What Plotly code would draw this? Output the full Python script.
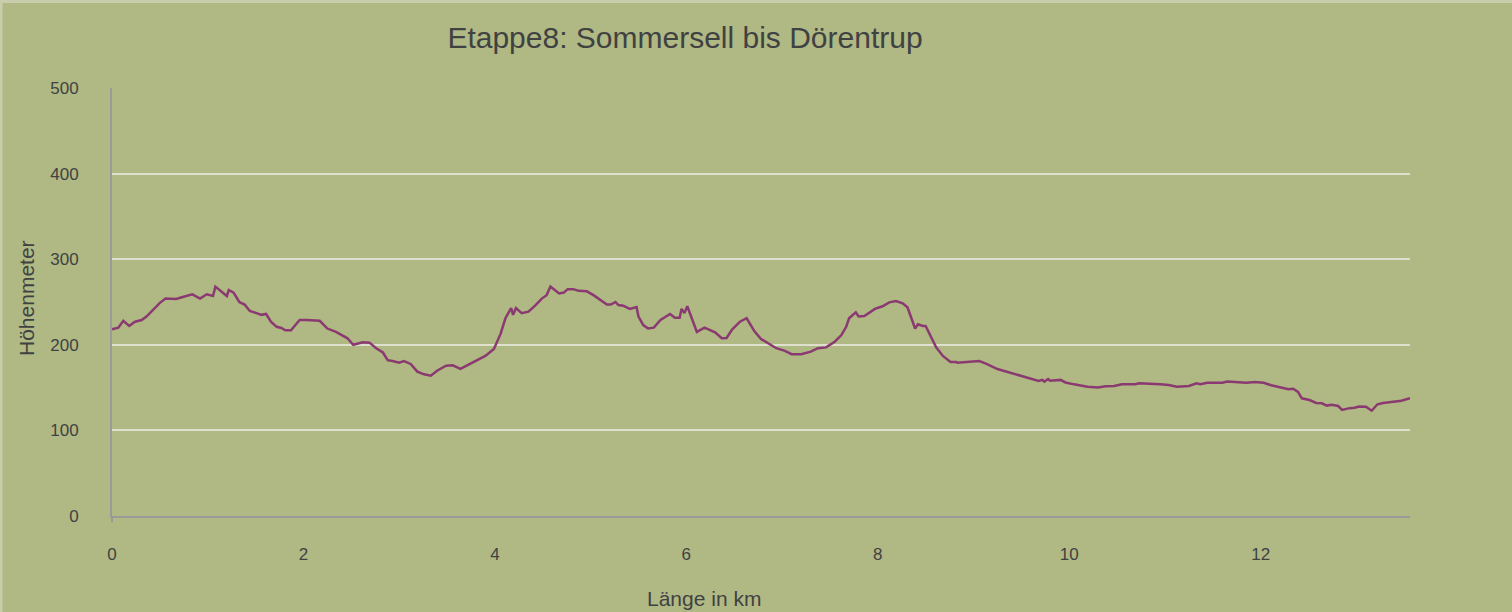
import plotly.graph_objects as go

km = [0.0, 0.066, 0.118, 0.18, 0.24, 0.31, 0.36, 0.43, 0.5, 0.56, 0.67, 0.73, 0.79, 0.84, 0.92, 0.99,
      1.055, 1.08, 1.2, 1.22, 1.27, 1.33, 1.385, 1.44, 1.51, 1.56, 1.61, 1.66, 1.72, 1.77, 1.81, 1.87,
      1.96, 2.03, 2.17, 2.25, 2.34, 2.46, 2.52, 2.62, 2.69, 2.76, 2.83, 2.88, 2.93, 3.0, 3.05, 3.12,
      3.19, 3.26, 3.33, 3.4, 3.49, 3.56, 3.64, 3.73, 3.82, 3.9, 3.99, 4.06, 4.11, 4.15, 4.17, 4.19,
      4.22, 4.28, 4.35, 4.42, 4.49, 4.54, 4.58, 4.67, 4.72, 4.76, 4.82, 4.875, 4.96, 5.03, 5.1, 5.17,
      5.21, 5.26, 5.29, 5.34, 5.41, 5.48, 5.5, 5.55, 5.6, 5.66, 5.73, 5.83, 5.88, 5.93, 5.95, 5.98,
      6.01, 6.06, 6.11, 6.19, 6.26, 6.3, 6.37, 6.42, 6.48, 6.56, 6.63, 6.71, 6.78, 6.85, 6.94, 7.03,
      7.1, 7.2, 7.3, 7.375, 7.46, 7.55, 7.62, 7.67, 7.7, 7.77, 7.8, 7.86, 7.97, 8.05, 8.12, 8.19,
      8.26, 8.31, 8.35, 8.39, 8.42, 8.47, 8.5, 8.56, 8.61, 8.68, 8.76, 8.82, 8.83, 9.06, 9.13, 9.25,
      9.35, 9.49, 9.61, 9.68, 9.72, 9.74, 9.78, 9.8, 9.91, 9.96, 10.05, 10.19, 10.3, 10.38, 10.47, 10.55,
      10.69, 10.73, 10.95, 11.04, 11.125, 11.25, 11.33, 11.37, 11.44, 11.6, 11.65, 11.75, 11.85, 11.94, 12.03, 12.11,
      12.24, 12.29, 12.34, 12.39, 12.43, 12.51, 12.58, 12.64, 12.69, 12.74, 12.81, 12.85, 12.93, 12.98, 13.03, 13.1,
      13.16, 13.22, 13.28, 13.38, 13.47, 13.56]

hoehe = [218, 220, 228, 222, 227, 229, 233, 241, 249, 254, 253.5, 255.5, 257, 259, 254, 259,
         257, 268, 257, 264, 261, 250, 247, 239.5, 237, 235, 236, 227, 221, 219.6, 217, 217,
         229, 229, 228, 219, 215, 207.6, 200, 203, 202.5, 196, 191, 182, 181, 179, 181, 177.6,
         168.6, 165.5, 164, 170, 175.6, 176, 172, 177, 182, 187, 195, 213, 231, 238.7, 243, 235,
         243, 237, 238.7, 245.7, 254, 258, 268, 260, 261, 265, 265, 263, 262.5, 258, 252, 247,
         247, 250, 246.5, 245.7, 242, 244, 233, 223, 219, 220, 229, 236, 231.7, 231.7, 242, 237,
         245, 231, 215, 220, 216, 214.6, 207.6, 208, 218, 227, 231, 216, 206.8, 202.5, 196, 193,
         189, 189, 192, 196, 197, 203.6, 211.4, 221, 231, 238, 233, 233.5, 242, 245, 249.6, 251,
         248.5, 243.8, 231, 219, 224, 222, 222, 207.6, 197, 187, 180, 180, 179, 181, 178, 171.7,
         168.6, 163.6, 160, 157.7, 159, 157, 160, 158, 159, 156, 153.8, 151, 150, 151.5, 152, 154,
         154, 155, 154, 153, 151, 152, 155, 154, 155.7, 155.7, 157, 156, 155.7, 156.5, 155.7, 152.7,
         149, 148, 148.7, 145, 137.5, 135.5, 132, 131.6, 129, 130, 128.5, 124, 126, 126.5, 128, 127.7,
         123, 130.5, 132, 133, 134.7, 137.5]

x_ticks = [0, 2, 4, 6, 8, 10, 12]
y_ticks = [0, 100, 200, 300, 400, 500]

title_text = "Etappe8: Sommersell bis Dörentrup"
x_title = "Länge in km"
y_title = "Höhenmeter"

BG = "#b0b884"
BORDER = "#c9cdab"
TXT = "#404242"
FONT = "Liberation Sans, Arial, sans-serif"

W, H = 1512, 612
L, R, T, B = 112, 102, 88, 96
pw, ph = W - L - R, H - T - B

def px_to_paper_x(px):
    return (px - L) / pw

def py_to_paper_y(py):
    return (H - B - py) / ph

fig = go.Figure()
fig.add_trace(go.Scatter(x=km, y=hoehe, mode="lines",
                         line=dict(color="#8a3a70", width=2.5), showlegend=False))

fig.update_layout(
    width=W, height=H,
    margin=dict(l=L, r=R, t=T, b=B, pad=0),
    paper_bgcolor=BG, plot_bgcolor=BG,
    font=dict(family=FONT, color=TXT, size=18),
    title=dict(text=title_text, x=685 / W, xanchor="center", xref="container",
               y=1 - 37 / H, yanchor="middle", yref="container",
               font=dict(size=30, color=TXT, family=FONT)),
    xaxis=dict(range=[0, 13.56], tickvals=x_ticks, ticktext=[str(v) for v in x_ticks],
               showgrid=False, zeroline=False, showline=True, linecolor="#9a9a9a", linewidth=2,
               ticks="outside", ticklen=22, tickcolor="rgba(0,0,0,0)",
               tickfont=dict(size=17, color=TXT)),
    yaxis=dict(range=[0, 500], tickvals=y_ticks, ticktext=[str(v) for v in y_ticks],
               showgrid=True, gridcolor="#dde0cc", gridwidth=1.5, zeroline=False,
               showline=True, linecolor="#9a9a9a", linewidth=2,
               ticks="outside", ticklen=28, tickcolor="rgba(0,0,0,0)",
               tickfont=dict(size=17, color=TXT)),
    annotations=[
        dict(text=x_title, xref="paper", yref="paper", x=px_to_paper_x(704), y=py_to_paper_y(598),
             xanchor="center", yanchor="middle", showarrow=False, font=dict(size=21, color=TXT)),
        dict(text=y_title, xref="paper", yref="paper", x=px_to_paper_x(26), y=py_to_paper_y(298),
             xanchor="center", yanchor="middle", textangle=-90, showarrow=False,
             font=dict(size=21, color=TXT)),
    ],
    shapes=[
        dict(type="rect", xref="paper", yref="paper", x0=px_to_paper_x(0), x1=px_to_paper_x(W),
             y0=py_to_paper_y(3), y1=py_to_paper_y(0), fillcolor=BORDER, line=dict(width=0), layer="below"),
        dict(type="rect", xref="paper", yref="paper", x0=px_to_paper_x(0), x1=px_to_paper_x(2.5),
             y0=py_to_paper_y(H), y1=py_to_paper_y(0), fillcolor=BORDER, line=dict(width=0), layer="below"),
        dict(type="line", xref="paper", yref="paper", x0=0, x1=0,
             y0=py_to_paper_y(522), y1=0, line=dict(color="#9a9a9a", width=2)),
    ],
)

fig.write_html(
    "out.html",
    config={"displayModeBar": False},
    post_script="document.body.style.margin='0';document.body.style.padding='0';"
                "document.body.style.overflow='hidden';document.body.style.background='" + BG + "';",
)
